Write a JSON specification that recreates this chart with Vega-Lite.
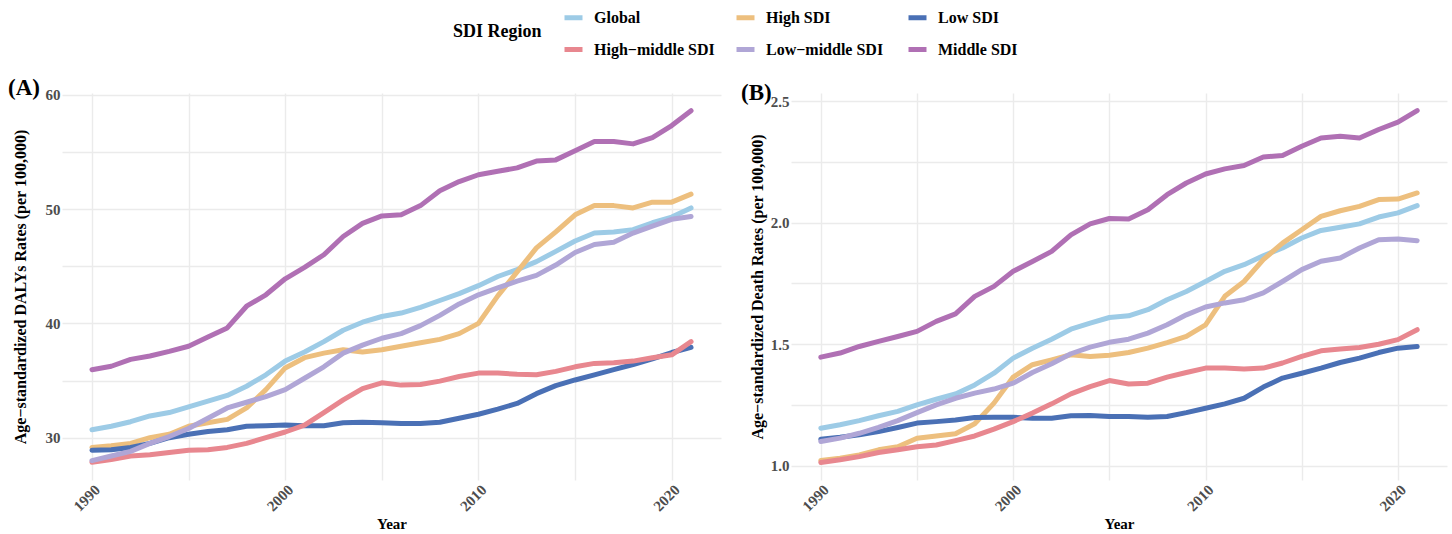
{
  "$schema": "https://vega.github.io/schema/vega-lite/v6.json",
  "background": "white",
  "padding": {"left": 8, "top": 6, "right": 4, "bottom": 4},
  "config": {
    "font": "Liberation Serif",
    "view": {"stroke": null},
    "axis": {
      "grid": true,
      "gridColor": "#EBEBEB",
      "gridWidth": 1.4,
      "domain": false,
      "ticks": false,
      "labelFont": "Liberation Serif",
      "labelFontWeight": "bold",
      "labelFontSize": 15,
      "labelColor": "#4D4D4D",
      "labelOverlap": false,
      "titleFont": "Liberation Serif",
      "titleFontWeight": "bold",
      "titleFontSize": 15,
      "titleColor": "#000000"
    },
    "axisY": {"titleFontSize": 16},
    "title": {"font": "Liberation Serif", "fontSize": 23, "fontWeight": "bold", "color": "#000000", "anchor": "start", "frame": "group"},
    "line": {"strokeWidth": 5, "strokeCap": "round", "strokeJoin": "round"}
  },
  "data": {
    "values": [
      {"year":1990,"region":"Global","daly":30.7,"death":1.155},
      {"year":1991,"region":"Global","daly":31.0,"death":1.169},
      {"year":1992,"region":"Global","daly":31.4,"death":1.186},
      {"year":1993,"region":"Global","daly":31.9,"death":1.206},
      {"year":1994,"region":"Global","daly":32.2,"death":1.224},
      {"year":1995,"region":"Global","daly":32.7,"death":1.251},
      {"year":1996,"region":"Global","daly":33.2,"death":1.274},
      {"year":1997,"region":"Global","daly":33.7,"death":1.296},
      {"year":1998,"region":"Global","daly":34.5,"death":1.333},
      {"year":1999,"region":"Global","daly":35.5,"death":1.381},
      {"year":2000,"region":"Global","daly":36.7,"death":1.443},
      {"year":2001,"region":"Global","daly":37.5,"death":1.484},
      {"year":2002,"region":"Global","daly":38.4,"death":1.521},
      {"year":2003,"region":"Global","daly":39.4,"death":1.562},
      {"year":2004,"region":"Global","daly":40.1,"death":1.587},
      {"year":2005,"region":"Global","daly":40.6,"death":1.610},
      {"year":2006,"region":"Global","daly":40.9,"death":1.617},
      {"year":2007,"region":"Global","daly":41.4,"death":1.642},
      {"year":2008,"region":"Global","daly":42.0,"death":1.683},
      {"year":2009,"region":"Global","daly":42.6,"death":1.717},
      {"year":2010,"region":"Global","daly":43.3,"death":1.758},
      {"year":2011,"region":"Global","daly":44.1,"death":1.800},
      {"year":2012,"region":"Global","daly":44.7,"death":1.827},
      {"year":2013,"region":"Global","daly":45.4,"death":1.864},
      {"year":2014,"region":"Global","daly":46.3,"death":1.896},
      {"year":2015,"region":"Global","daly":47.2,"death":1.937},
      {"year":2016,"region":"Global","daly":47.9,"death":1.968},
      {"year":2017,"region":"Global","daly":48.0,"death":1.981},
      {"year":2018,"region":"Global","daly":48.2,"death":1.995},
      {"year":2019,"region":"Global","daly":48.8,"death":2.023},
      {"year":2020,"region":"Global","daly":49.3,"death":2.040},
      {"year":2021,"region":"Global","daly":50.1,"death":2.070},

      {"year":1990,"region":"High SDI","daly":29.15,"death":1.022},
      {"year":1991,"region":"High SDI","daly":29.3,"death":1.032},
      {"year":1992,"region":"High SDI","daly":29.5,"death":1.045},
      {"year":1993,"region":"High SDI","daly":30.0,"death":1.066},
      {"year":1994,"region":"High SDI","daly":30.3,"death":1.079},
      {"year":1995,"region":"High SDI","daly":31.0,"death":1.114},
      {"year":1996,"region":"High SDI","daly":31.3,"death":1.123},
      {"year":1997,"region":"High SDI","daly":31.6,"death":1.132},
      {"year":1998,"region":"High SDI","daly":32.6,"death":1.173},
      {"year":1999,"region":"High SDI","daly":34.2,"death":1.258},
      {"year":2000,"region":"High SDI","daly":36.1,"death":1.365},
      {"year":2001,"region":"High SDI","daly":37.0,"death":1.416},
      {"year":2002,"region":"High SDI","daly":37.4,"death":1.436},
      {"year":2003,"region":"High SDI","daly":37.7,"death":1.457},
      {"year":2004,"region":"High SDI","daly":37.5,"death":1.450},
      {"year":2005,"region":"High SDI","daly":37.7,"death":1.455},
      {"year":2006,"region":"High SDI","daly":38.0,"death":1.466},
      {"year":2007,"region":"High SDI","daly":38.3,"death":1.484},
      {"year":2008,"region":"High SDI","daly":38.6,"death":1.507},
      {"year":2009,"region":"High SDI","daly":39.1,"death":1.532},
      {"year":2010,"region":"High SDI","daly":40.0,"death":1.580},
      {"year":2011,"region":"High SDI","daly":42.4,"death":1.697},
      {"year":2012,"region":"High SDI","daly":44.5,"death":1.758},
      {"year":2013,"region":"High SDI","daly":46.6,"death":1.848},
      {"year":2014,"region":"High SDI","daly":48.0,"death":1.916},
      {"year":2015,"region":"High SDI","daly":49.5,"death":1.971},
      {"year":2016,"region":"High SDI","daly":50.3,"death":2.026},
      {"year":2017,"region":"High SDI","daly":50.3,"death":2.049},
      {"year":2018,"region":"High SDI","daly":50.1,"death":2.067},
      {"year":2019,"region":"High SDI","daly":50.6,"death":2.095},
      {"year":2020,"region":"High SDI","daly":50.6,"death":2.097},
      {"year":2021,"region":"High SDI","daly":51.3,"death":2.122},

      {"year":1990,"region":"Low SDI","daly":28.9,"death":1.110},
      {"year":1991,"region":"Low SDI","daly":28.95,"death":1.118},
      {"year":1992,"region":"Low SDI","daly":29.15,"death":1.128},
      {"year":1993,"region":"Low SDI","daly":29.5,"death":1.141},
      {"year":1994,"region":"Low SDI","daly":30.0,"death":1.158},
      {"year":1995,"region":"Low SDI","daly":30.3,"death":1.176},
      {"year":1996,"region":"Low SDI","daly":30.55,"death":1.182},
      {"year":1997,"region":"Low SDI","daly":30.7,"death":1.189},
      {"year":1998,"region":"Low SDI","daly":31.0,"death":1.199},
      {"year":1999,"region":"Low SDI","daly":31.05,"death":1.200},
      {"year":2000,"region":"Low SDI","daly":31.1,"death":1.200},
      {"year":2001,"region":"Low SDI","daly":31.05,"death":1.196},
      {"year":2002,"region":"Low SDI","daly":31.05,"death":1.196},
      {"year":2003,"region":"Low SDI","daly":31.3,"death":1.206},
      {"year":2004,"region":"Low SDI","daly":31.35,"death":1.207},
      {"year":2005,"region":"Low SDI","daly":31.3,"death":1.203},
      {"year":2006,"region":"Low SDI","daly":31.25,"death":1.203},
      {"year":2007,"region":"Low SDI","daly":31.25,"death":1.200},
      {"year":2008,"region":"Low SDI","daly":31.35,"death":1.203},
      {"year":2009,"region":"Low SDI","daly":31.7,"death":1.219},
      {"year":2010,"region":"Low SDI","daly":32.05,"death":1.237},
      {"year":2011,"region":"Low SDI","daly":32.5,"death":1.255},
      {"year":2012,"region":"Low SDI","daly":33.0,"death":1.278},
      {"year":2013,"region":"Low SDI","daly":33.85,"death":1.324},
      {"year":2014,"region":"Low SDI","daly":34.55,"death":1.361},
      {"year":2015,"region":"Low SDI","daly":35.05,"death":1.381},
      {"year":2016,"region":"Low SDI","daly":35.5,"death":1.402},
      {"year":2017,"region":"Low SDI","daly":35.95,"death":1.425},
      {"year":2018,"region":"Low SDI","daly":36.4,"death":1.443},
      {"year":2019,"region":"Low SDI","daly":36.9,"death":1.466},
      {"year":2020,"region":"Low SDI","daly":37.45,"death":1.484},
      {"year":2021,"region":"Low SDI","daly":37.9,"death":1.491},

      {"year":1990,"region":"High−middle SDI","daly":27.85,"death":1.014},
      {"year":1991,"region":"High−middle SDI","daly":28.1,"death":1.025},
      {"year":1992,"region":"High−middle SDI","daly":28.4,"death":1.038},
      {"year":1993,"region":"High−middle SDI","daly":28.5,"death":1.055},
      {"year":1994,"region":"High−middle SDI","daly":28.7,"death":1.066},
      {"year":1995,"region":"High−middle SDI","daly":28.9,"death":1.079},
      {"year":1996,"region":"High−middle SDI","daly":28.95,"death":1.086},
      {"year":1997,"region":"High−middle SDI","daly":29.15,"death":1.104},
      {"year":1998,"region":"High−middle SDI","daly":29.5,"death":1.123},
      {"year":1999,"region":"High−middle SDI","daly":30.0,"death":1.151},
      {"year":2000,"region":"High−middle SDI","daly":30.5,"death":1.182},
      {"year":2001,"region":"High−middle SDI","daly":31.1,"death":1.217},
      {"year":2002,"region":"High−middle SDI","daly":32.2,"death":1.255},
      {"year":2003,"region":"High−middle SDI","daly":33.3,"death":1.296},
      {"year":2004,"region":"High−middle SDI","daly":34.3,"death":1.326},
      {"year":2005,"region":"High−middle SDI","daly":34.8,"death":1.351},
      {"year":2006,"region":"High−middle SDI","daly":34.6,"death":1.337},
      {"year":2007,"region":"High−middle SDI","daly":34.65,"death":1.340},
      {"year":2008,"region":"High−middle SDI","daly":34.95,"death":1.365},
      {"year":2009,"region":"High−middle SDI","daly":35.35,"death":1.384},
      {"year":2010,"region":"High−middle SDI","daly":35.65,"death":1.402},
      {"year":2011,"region":"High−middle SDI","daly":35.65,"death":1.402},
      {"year":2012,"region":"High−middle SDI","daly":35.55,"death":1.398},
      {"year":2013,"region":"High−middle SDI","daly":35.5,"death":1.402},
      {"year":2014,"region":"High−middle SDI","daly":35.8,"death":1.423},
      {"year":2015,"region":"High−middle SDI","daly":36.2,"death":1.450},
      {"year":2016,"region":"High−middle SDI","daly":36.5,"death":1.473},
      {"year":2017,"region":"High−middle SDI","daly":36.55,"death":1.481},
      {"year":2018,"region":"High−middle SDI","daly":36.7,"death":1.487},
      {"year":2019,"region":"High−middle SDI","daly":37.0,"death":1.500},
      {"year":2020,"region":"High−middle SDI","daly":37.25,"death":1.519},
      {"year":2021,"region":"High−middle SDI","daly":38.4,"death":1.560},

      {"year":1990,"region":"Low−middle SDI","daly":28.0,"death":1.100},
      {"year":1991,"region":"Low−middle SDI","daly":28.4,"death":1.114},
      {"year":1992,"region":"Low−middle SDI","daly":28.8,"death":1.134},
      {"year":1993,"region":"Low−middle SDI","daly":29.5,"death":1.158},
      {"year":1994,"region":"Low−middle SDI","daly":30.1,"death":1.186},
      {"year":1995,"region":"Low−middle SDI","daly":30.8,"death":1.219},
      {"year":1996,"region":"Low−middle SDI","daly":31.7,"death":1.251},
      {"year":1997,"region":"Low−middle SDI","daly":32.6,"death":1.278},
      {"year":1998,"region":"Low−middle SDI","daly":33.1,"death":1.299},
      {"year":1999,"region":"Low−middle SDI","daly":33.6,"death":1.316},
      {"year":2000,"region":"Low−middle SDI","daly":34.2,"death":1.340},
      {"year":2001,"region":"Low−middle SDI","daly":35.2,"death":1.384},
      {"year":2002,"region":"Low−middle SDI","daly":36.2,"death":1.420},
      {"year":2003,"region":"Low−middle SDI","daly":37.4,"death":1.461},
      {"year":2004,"region":"Low−middle SDI","daly":38.1,"death":1.488},
      {"year":2005,"region":"Low−middle SDI","daly":38.7,"death":1.508},
      {"year":2006,"region":"Low−middle SDI","daly":39.1,"death":1.521},
      {"year":2007,"region":"Low−middle SDI","daly":39.8,"death":1.546},
      {"year":2008,"region":"Low−middle SDI","daly":40.7,"death":1.580},
      {"year":2009,"region":"Low−middle SDI","daly":41.7,"death":1.621},
      {"year":2010,"region":"Low−middle SDI","daly":42.5,"death":1.653},
      {"year":2011,"region":"Low−middle SDI","daly":43.1,"death":1.670},
      {"year":2012,"region":"Low−middle SDI","daly":43.7,"death":1.683},
      {"year":2013,"region":"Low−middle SDI","daly":44.2,"death":1.711},
      {"year":2014,"region":"Low−middle SDI","daly":45.1,"death":1.758},
      {"year":2015,"region":"Low−middle SDI","daly":46.2,"death":1.807},
      {"year":2016,"region":"Low−middle SDI","daly":46.9,"death":1.841},
      {"year":2017,"region":"Low−middle SDI","daly":47.1,"death":1.855},
      {"year":2018,"region":"Low−middle SDI","daly":47.9,"death":1.896},
      {"year":2019,"region":"Low−middle SDI","daly":48.5,"death":1.930},
      {"year":2020,"region":"Low−middle SDI","daly":49.1,"death":1.933},
      {"year":2021,"region":"Low−middle SDI","daly":49.35,"death":1.926},

      {"year":1990,"region":"Middle SDI","daly":35.95,"death":1.447},
      {"year":1991,"region":"Middle SDI","daly":36.25,"death":1.464},
      {"year":1992,"region":"Middle SDI","daly":36.85,"death":1.491},
      {"year":1993,"region":"Middle SDI","daly":37.15,"death":1.512},
      {"year":1994,"region":"Middle SDI","daly":37.55,"death":1.532},
      {"year":1995,"region":"Middle SDI","daly":38.0,"death":1.553},
      {"year":1996,"region":"Middle SDI","daly":38.8,"death":1.594},
      {"year":1997,"region":"Middle SDI","daly":39.6,"death":1.625},
      {"year":1998,"region":"Middle SDI","daly":41.5,"death":1.697},
      {"year":1999,"region":"Middle SDI","daly":42.5,"death":1.738},
      {"year":2000,"region":"Middle SDI","daly":43.9,"death":1.800},
      {"year":2001,"region":"Middle SDI","daly":44.9,"death":1.840},
      {"year":2002,"region":"Middle SDI","daly":46.0,"death":1.882},
      {"year":2003,"region":"Middle SDI","daly":47.6,"death":1.950},
      {"year":2004,"region":"Middle SDI","daly":48.75,"death":1.995},
      {"year":2005,"region":"Middle SDI","daly":49.4,"death":2.017},
      {"year":2006,"region":"Middle SDI","daly":49.5,"death":2.015},
      {"year":2007,"region":"Middle SDI","daly":50.3,"death":2.053},
      {"year":2008,"region":"Middle SDI","daly":51.6,"death":2.115},
      {"year":2009,"region":"Middle SDI","daly":52.4,"death":2.163},
      {"year":2010,"region":"Middle SDI","daly":53.0,"death":2.200},
      {"year":2011,"region":"Middle SDI","daly":53.3,"death":2.221},
      {"year":2012,"region":"Middle SDI","daly":53.6,"death":2.235},
      {"year":2013,"region":"Middle SDI","daly":54.2,"death":2.270},
      {"year":2014,"region":"Middle SDI","daly":54.3,"death":2.276},
      {"year":2015,"region":"Middle SDI","daly":55.1,"death":2.314},
      {"year":2016,"region":"Middle SDI","daly":55.9,"death":2.348},
      {"year":2017,"region":"Middle SDI","daly":55.9,"death":2.355},
      {"year":2018,"region":"Middle SDI","daly":55.7,"death":2.348},
      {"year":2019,"region":"Middle SDI","daly":56.25,"death":2.383},
      {"year":2020,"region":"Middle SDI","daly":57.3,"death":2.413},
      {"year":2021,"region":"Middle SDI","daly":58.6,"death":2.461}
    ]
  },
  "spacing": 20,
  "resolve": {"scale": {"color": "shared"}},
  "hconcat": [
    {
      "title": {"text": "(A)", "dx": -54, "dy": 30, "offset": 0, "baseline": "alphabetic"},
      "width": 659,
      "height": 387,
      "mark": {"type": "line"},
      "encoding": {
        "x": {
          "field": "year", "type": "quantitative",
          "scale": {"domain": [1988.45, 2022.55], "nice": false, "zero": false},
          "axis": {
            "title": "Year",
            "values": [1990, 1995, 2000, 2005, 2010, 2015, 2020],
            "format": "d",
            "labelExpr": "datum.value % 10 === 0 ? datum.label : ''",
            "labelAngle": 315, "labelAlign": "right", "labelBaseline": "top",
            "labelPadding": 2, "titlePadding": 3
          }
        },
        "y": {
          "field": "daly", "type": "quantitative",
          "scale": {"domain": [26.3, 60.15], "nice": false, "zero": false},
          "axis": {
            "title": "Age−standardized DALYs Rates (per 100,000)",
            "values": [30, 35, 40, 45, 50, 55, 60],
            "labelExpr": "datum.value % 10 === 0 ? datum.label : ''",
            "labelPadding": 2, "titlePadding": 17
          }
        },
        "color": {
          "field": "region", "type": "nominal",
          "scale": {
            "domain": ["Global", "High SDI", "Low SDI", "High−middle SDI", "Low−middle SDI", "Middle SDI"],
            "range": ["#9DCBE6", "#EDBF7E", "#4A70B5", "#E8878F", "#B0A6D6", "#B070B4"]
          },
          "legend": {
            "orient": "none", "legendX": 391, "legendY": -87,
            "direction": "horizontal", "columns": 3, "gridAlign": "all",
            "title": "SDI Region", "titleOrient": "left", "titleAnchor": "middle", "titleBaseline": "middle",
            "titleFont": "Liberation Serif", "titleFontSize": 18, "titleFontWeight": "bold", "titleColor": "#000000", "titlePadding": 20,
            "labelFont": "Liberation Serif", "labelFontSize": 16, "labelFontWeight": "bold", "labelColor": "#000000",
            "symbolType": "stroke", "symbolStrokeWidth": 6, "symbolSize": 324,
            "labelOffset": 9, "columnPadding": 19, "rowPadding": 12
          }
        }
      }
    },
    {
      "title": {"text": "(B)", "dx": -50, "dy": 30, "offset": 0, "baseline": "alphabetic"},
      "width": 656,
      "height": 387,
      "mark": {"type": "line"},
      "encoding": {
        "x": {
          "field": "year", "type": "quantitative",
          "scale": {"domain": [1988.45, 2022.55], "nice": false, "zero": false},
          "axis": {
            "title": "Year",
            "values": [1990, 1995, 2000, 2005, 2010, 2015, 2020],
            "format": "d",
            "labelExpr": "datum.value % 10 === 0 ? datum.label : ''",
            "labelAngle": 315, "labelAlign": "right", "labelBaseline": "top",
            "labelPadding": 2, "titlePadding": 3
          }
        },
        "y": {
          "field": "death", "type": "quantitative",
          "scale": {"domain": [0.942, 2.533], "nice": false, "zero": false},
          "axis": {
            "title": "Age−standardized Death Rates (per 100,000)",
            "values": [1, 1.25, 1.5, 1.75, 2, 2.25, 2.5],
            "labelExpr": "(datum.value * 2) % 1 === 0 ? format(datum.value, '.1f') : ''",
            "labelPadding": 2, "titlePadding": 5
          }
        },
        "color": {"field": "region", "type": "nominal"}
      }
    }
  ]
}
